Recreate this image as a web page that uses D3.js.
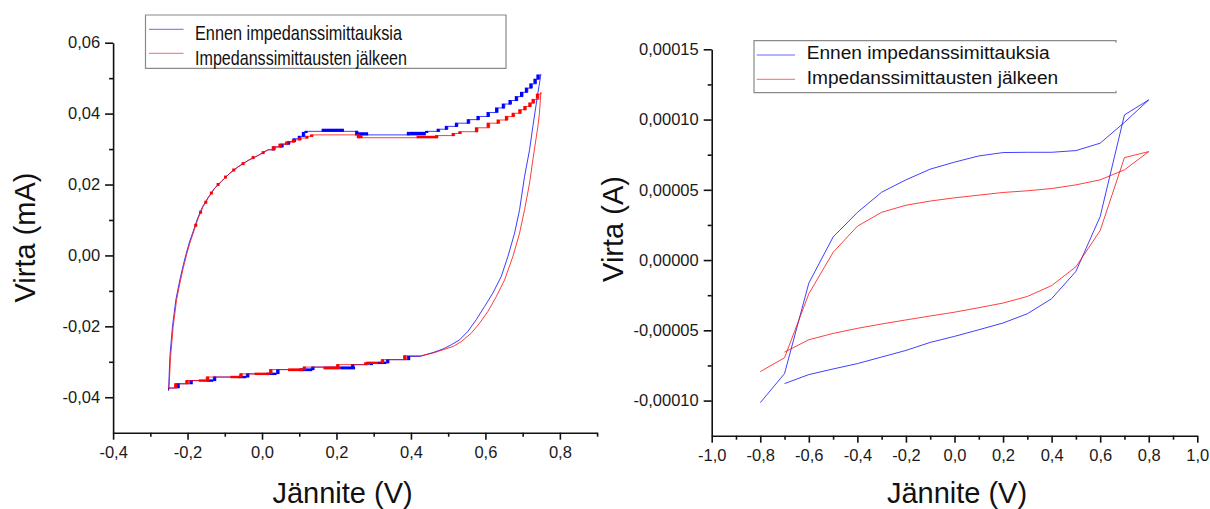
<!DOCTYPE html>
<html>
<head>
<meta charset="utf-8">
<script src="https://cdn.jsdelivr.net/npm/d3@7"></script>
<style>
  body { margin: 0; background: #fff; }
  text { font-family: "Liberation Sans", Arial, sans-serif; }
</style>
</head>
<body>
<svg id="chart" width="1210" height="509"></svg>
<script>
// ---- data ----
const legendLabels = ["Ennen impedanssimittauksia", "Impedanssimittausten jälkeen"];
const seriesColors = ["#0000ff", "#ff0000"];

// left panel: cyclic voltammogram, current in mA (step-quantized data)
const leftBlueRise = [[-0.251,-0.0381],[-0.2475,-0.0285],[-0.2405,-0.0200],[-0.2314,-0.0125],[-0.2225,-0.0078],[-0.2136,-0.0036],
  [-0.2046,0.0002],[-0.1957,0.0035],[-0.1866,0.0063],[-0.1730,0.0105],[-0.1595,0.0138],[-0.1456,0.0162],[-0.1272,0.0190],
  [-0.1090,0.0209],[-0.0865,0.0232],[-0.0641,0.0250],[-0.0372,0.0268],[-0.0104,0.0282],[0.0164,0.0298]];
const leftBlueTop = [[0.0164,0.0298],[0.035,0.0306],[0.057,0.0314],[0.075,0.0321],[0.090,0.0329],[0.104,0.0336],[0.115,0.0347],
  [0.122,0.0350],[0.258,0.0340],[0.397,0.0347],[0.446,0.0350],[0.477,0.0356],[0.499,0.0364],[0.526,0.0373],[0.558,0.0383],
  [0.584,0.0392],[0.611,0.0403],[0.634,0.0416],[0.652,0.0427],[0.670,0.0437],[0.687,0.0448],[0.701,0.0460],[0.714,0.0472],
  [0.726,0.0484],[0.737,0.0497],[0.745,0.0509],[0.749,0.0510]];
const leftBlueFall = [[0.749,0.0510],[0.741,0.0458],[0.7275,0.0364],[0.7186,0.0298],[0.7052,0.0223],[0.6918,0.0129],[0.6784,0.0063],
  [0.6604,-0.0003],[0.6427,-0.0059],[0.6201,-0.0106],[0.5978,-0.0144],[0.5756,-0.0181],[0.5531,-0.0214],[0.5308,-0.0238],
  [0.5085,-0.0252],[0.486,-0.0264],[0.4592,-0.0274],[0.4234,-0.0285]];
const leftBlueBottom = [[0.4234,-0.0285],[0.390,-0.0294],[0.334,-0.0303],[0.290,-0.0308],[0.240,-0.0315],[0.133,-0.0322],
  [0.039,-0.0334],[-0.042,-0.0343],[-0.131,-0.0353],[-0.194,-0.0362],[-0.229,-0.0374],[-0.251,-0.0381]];
// bands where the reading toggles between two levels: [V from, V to, I low, I high]
const leftBlueNoise = [[0.160,0.220,0.0350,0.0356],[0.255,0.285,0.0340,0.0346],[0.397,0.440,0.0340,0.0347],
  [0.310,0.334,-0.0305,-0.0301],[0.210,0.250,-0.0320,-0.0315],[0.100,0.135,-0.0325,-0.0320],[0.012,0.039,-0.0336,-0.0332],
  [-0.064,-0.042,-0.0345,-0.0341],[-0.150,-0.131,-0.0355,-0.0351]];

const leftRedRise = [[-0.250,-0.0377],[-0.2455,-0.0285],[-0.2385,-0.0200],[-0.2294,-0.0125],[-0.2205,-0.0078],[-0.2116,-0.0036],
  [-0.2026,0.0002],[-0.1937,0.0035],[-0.1848,0.0063],[-0.1714,0.0105],[-0.1580,0.0138],[-0.1446,0.0162],[-0.1266,0.0190],
  [-0.1087,0.0209],[-0.0863,0.0232],[-0.0641,0.0250],[-0.0372,0.0268],[-0.0104,0.0282],[0.0164,0.0298]];
const leftRedTop = [[0.0164,0.0298],[0.035,0.0306],[0.052,0.0314],[0.070,0.0320],[0.088,0.0326],[0.105,0.0331],[0.124,0.0336],
  [0.137,0.0340],[0.2625,0.0332],[0.4726,0.0338],[0.5174,0.0344],[0.5353,0.0349],[0.5799,0.0360],[0.6113,0.0373],[0.6381,0.0382],
  [0.6604,0.0392],[0.6784,0.0401],[0.6963,0.0411],[0.7098,0.0420],[0.7232,0.0430],[0.732,0.0440],[0.7436,0.0455],[0.749,0.0460]];
const leftRedFall = [[0.749,0.0460],[0.745,0.0400],[0.741,0.0364],[0.7275,0.0270],[0.7186,0.0204],[0.7052,0.0129],[0.6918,0.0063],
  [0.6738,-0.0003],[0.6515,-0.0069],[0.6293,-0.0116],[0.6067,-0.0158],[0.5844,-0.0191],[0.5622,-0.0219],[0.5353,-0.0243],
  [0.5128,-0.0257],[0.486,-0.0266],[0.4637,-0.0274],[0.428,-0.0283]];
const leftRedBottom = [[0.428,-0.0283],[0.380,-0.0294],[0.320,-0.0303],[0.275,-0.0308],[0.200,-0.0315],[0.110,-0.0322],
  [0.020,-0.0334],[-0.060,-0.0343],[-0.150,-0.0353],[-0.205,-0.0362],[-0.235,-0.0374],[-0.250,-0.0377]];
const leftRedNoise = [[0.415,0.470,0.0332,0.0336],[0.258,0.270,0.0332,0.0338],[0.280,0.310,-0.0305,-0.0301],
  [0.165,0.210,-0.0320,-0.0315],[0.070,0.110,-0.0325,-0.0320],[-0.020,0.020,-0.0336,-0.0332],[-0.085,-0.060,-0.0345,-0.0341],
  [-0.170,-0.150,-0.0355,-0.0351]];
// flicker spots along the rounded part of the forward sweep
const leftRedKnee = [[-0.178,0.0085],[-0.165,0.0122],[-0.151,0.0150],[-0.136,0.0176],[-0.118,0.0200],[-0.098,0.0221],
  [-0.076,0.0241],[-0.051,0.0259],[-0.024,0.0276],[0.003,0.0290],[0.030,0.0303]];

// right panel: voltage sweep and current in A
const rightV = [-0.8,-0.7,-0.6,-0.5,-0.4,-0.3,-0.2,-0.1,0.0,0.1,0.2,0.3,0.4,0.5,0.6,0.7,0.8,
  0.7,0.6,0.5,0.4,0.3,0.2,0.1,0.0,-0.1,-0.2,-0.3,-0.4,-0.5,-0.6,-0.7];
const rightBlue = [-10.15e-5,-8.08e-5,-1.64e-5,1.64e-5,3.39e-5,4.83e-5,5.71e-5,6.47e-5,6.97e-5,7.41e-5,7.65e-5,7.67e-5,7.67e-5,
  7.79e-5,8.32e-5,9.8e-5,11.4e-5,
  10.33e-5,3.10e-5,-0.81e-5,-2.75e-5,-3.82e-5,-4.48e-5,-4.96e-5,-5.43e-5,-5.86e-5,-6.43e-5,-6.9e-5,-7.37e-5,-7.75e-5,-8.15e-5,-8.79e-5];
const rightRed = [-7.94e-5,-6.95e-5,-2.4e-5,0.55e-5,2.41e-5,3.4e-5,3.9e-5,4.2e-5,4.43e-5,4.62e-5,4.81e-5,4.93e-5,5.09e-5,
  5.35e-5,5.71e-5,6.42e-5,7.72e-5,
  7.29e-5,2.1e-5,-0.48e-5,-1.82e-5,-2.59e-5,-3.06e-5,-3.39e-5,-3.71e-5,-3.98e-5,-4.26e-5,-4.55e-5,-4.86e-5,-5.22e-5,-5.67e-5,-6.55e-5];

// ticks
const leftXTicks = [-0.4,-0.2,0,0.2,0.4,0.6,0.8];
const leftXMinor = [-0.3,-0.1,0.1,0.3,0.5,0.7,0.9];
const leftYTicks = [-0.04,-0.02,0,0.02,0.04,0.06];
const leftYMinor = [-0.03,-0.01,0.01,0.03,0.05];
const rightXTicks = [-1,-0.8,-0.6,-0.4,-0.2,0,0.2,0.4,0.6,0.8,1];
const rightXMinor = [-0.9,-0.7,-0.5,-0.3,-0.1,0.1,0.3,0.5,0.7,0.9];
const rightYTicks = [-0.0001,-0.00005,0,0.00005,0.0001,0.00015];
const rightYMinor = [-0.000075,-0.000025,0.000025,0.000075,0.000125];

const xTitle = "Jännite (V)";
const leftYTitle = "Virta (mA)";
const rightYTitle = "Virta (A)";

// ---- drawing ----
const svg = d3.select("#chart");
const loc = d3.formatLocale({decimal: ",", thousands: "\u00a0", grouping: [3], currency: ["", ""], minus: "-"});

function drawAxes(g, x, y, o) {
  const y0 = y.range()[0], x0 = x.range()[0];
  g.append("g").attr("transform", `translate(0,${y0})`)
    .call(d3.axisBottom(x).tickValues(o.xTicks).tickSize(7).tickSizeOuter(0).tickPadding(7).tickFormat(loc.format(".1f")));
  g.append("g").attr("transform", `translate(0,${y0})`)
    .call(d3.axisBottom(x).tickValues(o.xMinor).tickSize(4).tickFormat(""))
    .call(s => s.select(".domain").remove());
  g.append("g").attr("transform", `translate(${x0},0)`)
    .call(d3.axisLeft(y).tickValues(o.yTicks).tickSize(8).tickSizeOuter(0).tickPadding(5).tickFormat(loc.format(o.yFmt)));
  g.append("g").attr("transform", `translate(${x0},0)`)
    .call(d3.axisLeft(y).tickValues(o.yMinor).tickSize(4).tickFormat(""))
    .call(s => s.select(".domain").remove());
  g.selectAll(".tick line, .domain").attr("stroke", "#111").attr("stroke-width", 1.6);
  g.selectAll(".tick text").attr("font-size", 16.5).attr("fill", "#1a1a1a")
    .style("font-family", "'Liberation Sans', Arial, sans-serif");

  g.append("text").attr("x", o.xTitleX).attr("y", 503).attr("text-anchor", "middle")
    .attr("font-size", 29).attr("fill", "#111").text(xTitle);
  g.append("text").attr("transform", `translate(${o.yTitleX},${o.yTitleY}) rotate(-90)`)
    .attr("text-anchor", "middle").attr("font-size", 29).attr("fill", "#111").text(o.yTitle);
}

function drawLegend(g, o) {
  const [x0, y0, x1, y1] = o.box;
  const d = o.openRight
    ? `M${x1},${y0 + 2}V${y0}H${x0}V${y1}H${x1}V${y1 - 2}`
    : `M${x0},${y0}H${x1}V${y1}H${x0}Z`;
  g.append("path").attr("d", d).attr("fill", "#fff").attr("stroke", "#8a8a8a").attr("stroke-width", 1.2);
  legendLabels.forEach((lab, i) => {
    g.append("line").attr("x1", o.sx[0]).attr("x2", o.sx[1]).attr("y1", o.rows[i]).attr("y2", o.rows[i])
      .attr("stroke", seriesColors[i]).attr("stroke-width", 1).attr("stroke-opacity", 0.6);
    const t = g.append("text").attr("x", o.tx).attr("y", o.base[i]).attr("font-size", o.fs)
      .attr("fill", "#111").text(lab);
    if (o.len) t.attr("textLength", o.len[i]).attr("lengthAdjust", "spacingAndGlyphs");
  });
}

// left panel
const xL = d3.scaleLinear().domain([-0.4, 0.9]).range([113.1, 597.1]);
const yL = d3.scaleLinear().domain([-0.05, 0.06]).range([432.7, 42.7]);
const gL = svg.append("g");
drawAxes(gL, xL, yL, {xTicks: leftXTicks, xMinor: leftXMinor, yTicks: leftYTicks, yMinor: leftYMinor,
  yFmt: ".2f", xTitleX: 342.6, yTitleX: 35, yTitleY: 237.5, yTitle: leftYTitle});

const lineL = curve => d3.line().x(d => xL(d[0])).y(d => yL(d[1])).curve(curve);
const leftSeries = [
  {color: 0, segs: [[leftBlueRise, d3.curveLinear], [leftBlueTop, d3.curveStepAfter],
    [leftBlueFall, d3.curveLinear], [leftBlueBottom, d3.curveStepAfter]], steps: [leftBlueTop, leftBlueBottom],
    noise: leftBlueNoise, dots: []},
  {color: 1, segs: [[leftRedRise, d3.curveLinear], [leftRedTop, d3.curveStepAfter],
    [leftRedFall, d3.curveLinear], [leftRedBottom, d3.curveStepAfter]], steps: [leftRedTop, leftRedBottom],
    noise: leftRedNoise, dots: leftRedKnee}
];
leftSeries.forEach(s => {
  const g = gL.append("g");
  const col = seriesColors[s.color];
  g.selectAll("path").data(s.segs).join("path")
    .attr("d", d => lineL(d[1])(d[0]))
    .attr("fill", "none").attr("stroke", col).attr("stroke-width", 0.9).attr("stroke-opacity", 0.85);
  // small dense blocks where the reading flickers at each step of the quantized data
  const trans = [];
  s.steps.forEach(arr => arr.forEach((p, i) => {
    if (i > 0 && i < arr.length - 1 && p[1] !== arr[i - 1][1]) {
      const dir = arr[arr.length - 1][0] > arr[0][0] ? -1 : 1;
      trans.push({v: p[0], a: arr[i - 1][1], b: p[1], dir});
    }
  }));
  g.selectAll("rect.step").data(trans).join("rect").attr("class", "step")
    .attr("x", d => d.dir < 0 ? xL(d.v) - 3 : xL(d.v))
    .attr("width", 3)
    .attr("y", d => Math.min(yL(d.a), yL(d.b)) - 0.5)
    .attr("height", d => Math.min(Math.abs(yL(d.a) - yL(d.b)), 4) + 1)
    .attr("fill", col);
  g.selectAll("rect.noise").data(s.noise).join("rect").attr("class", "noise")
    .attr("x", d => xL(d[0])).attr("width", d => xL(d[1]) - xL(d[0]))
    .attr("y", d => yL(d[3]) - 0.5).attr("height", d => yL(d[2]) - yL(d[3]) + 1)
    .attr("fill", col);
  g.selectAll("rect.dot").data(s.dots).join("rect").attr("class", "dot")
    .attr("x", d => xL(d[0]) - 1.5).attr("y", d => yL(d[1]) - 1.5)
    .attr("width", 3).attr("height", 3).attr("fill", col);
});

drawLegend(gL, {box: [145.5, 15, 506, 68.3], sx: [149, 183.5], rows: [29.3, 53.3], tx: 195,
  base: [39.5, 65], fs: 21, len: [207, 212]});

// right panel
const xR = d3.scaleLinear().domain([-1, 1]).range([711.7, 1197.3]);
const yR = d3.scaleLinear().domain([-0.000125, 0.00015]).range([435.7, 49.3]);
const gR = svg.append("g");
drawAxes(gR, xR, yR, {xTicks: rightXTicks, xMinor: rightXMinor, yTicks: rightYTicks, yMinor: rightYMinor,
  yFmt: ".5f", xTitleX: 957, yTitleX: 623, yTitleY: 229, yTitle: rightYTitle});

const lineR = d3.line().x(d => xR(d[0])).y(d => yR(d[1]));
[rightBlue, rightRed].forEach((vals, i) => {
  gR.append("path").datum(rightV.map((v, k) => [v, vals[k]]))
    .attr("d", lineR).attr("fill", "none").attr("stroke", seriesColors[i])
    .attr("stroke-width", 1).attr("stroke-opacity", 0.75);
});

drawLegend(gR, {box: [754, 40.7, 1116, 92.7], openRight: true, sx: [756.7, 795], rows: [55, 79.3], tx: 806.7,
  base: [59.3, 84], fs: 19.1});
</script>
</body>
</html>
